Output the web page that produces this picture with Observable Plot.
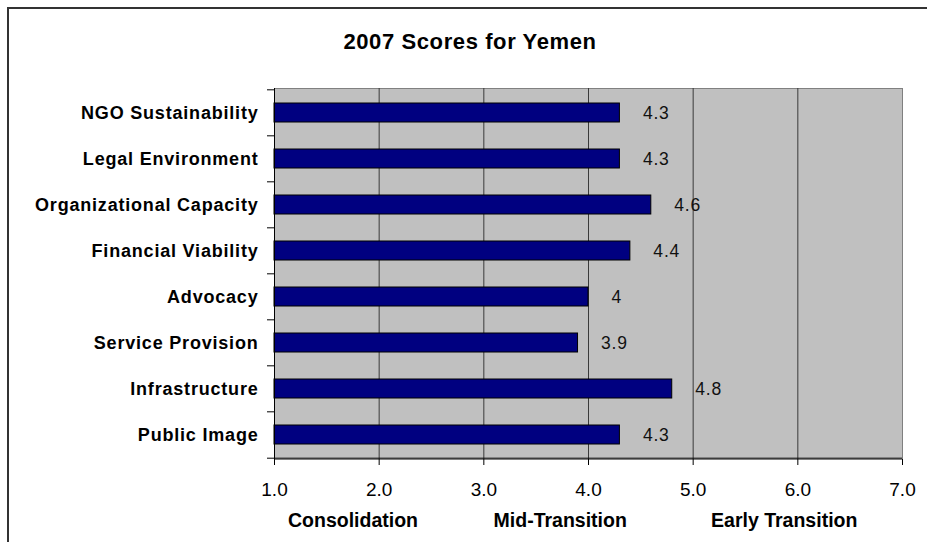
<!DOCTYPE html>
<html><head><meta charset="utf-8">
<script src="https://cdn.jsdelivr.net/npm/d3@7"></script>
<script src="https://cdn.jsdelivr.net/npm/@observablehq/plot@0.6"></script>
<style>
html,body{margin:0;padding:0;background:#fff;}
body{width:927px;height:542px;overflow:hidden;position:relative;font-family:"Liberation Sans",Arial,sans-serif;}
#border{position:absolute;left:7px;top:7px;width:1000px;height:1000px;border:2px solid #333;box-sizing:border-box}
#title{position:absolute;left:0;top:31px;width:940px;text-align:center;font-weight:bold;font-size:22px;line-height:22px;letter-spacing:0.6px;color:#000}
#chart{position:absolute;left:0;top:60px}
</style></head><body>
<div id="border"></div>
<div id="title">2007 Scores for Yemen</div>
<div id="chart"></div>
<script>
const categories = ["NGO Sustainability","Legal Environment","Organizational Capacity","Financial Viability","Advocacy","Service Provision","Infrastructure","Public Image"];
const scores = [4.3, 4.3, 4.6, 4.4, 4.0, 3.9, 4.8, 4.3];
const valueLabels = ["4.3","4.3","4.6","4.4","4","3.9","4.8","4.3"];
const xDomain = [1, 7];
const xTicks = [1, 2, 3, 4, 5, 6, 7];
const gridValues = [2, 3, 4, 5, 6];
const stages = ["Consolidation", "Mid-Transition", "Early Transition"];
const stagePositions = [1.75, 3.73, 5.87];

const W = 927, H = 482;
const mL = 274, mR = 25, mT = 28, mB = 83;
const step = (H - mT - mB) / categories.length;
const ppu = (W - mL - mR) / (xDomain[1] - xDomain[0]);
const tickExt = xDomain[0] - 7 / ppu;

const data = categories.map((c, i) => ({category: c, score: scores[i], label: valueLabels[i]}));
const stageData = stages.map((s, i) => ({stage: s, pos: stagePositions[i]}));

const chart = Plot.plot({
  width: W, height: H,
  marginLeft: mL, marginRight: mR, marginTop: mT, marginBottom: mB,
  style: {fontFamily: '"Liberation Sans", Arial, sans-serif', background: "transparent", color: "#000"},
  x: {domain: xDomain, label: null},
  y: {domain: categories, paddingInner: 0.59, paddingOuter: 0.295, align: 0.5, label: null},
  marks: [
    Plot.frame({fill: "#C0C0C0", stroke: "#808080"}),
    Plot.ruleX(gridValues, {stroke: "#3a3a3a", strokeWidth: 1}),
    Plot.barX(data, {y: "category", x1: xDomain[0], x2: "score", fill: "#000080", stroke: "#000", strokeWidth: 1}),
    Plot.ruleX([xDomain[0]], {stroke: "#000"}),
    Plot.ruleY(categories, {y: d => d, dy: -step / 2, x1: tickExt, x2: xDomain[0], stroke: "#000"}),
    Plot.ruleY([categories[categories.length - 1]], {y: d => d, dy: step / 2, x1: tickExt, x2: xDomain[1], stroke: "#000"}),
    Plot.text(data, {y: "category", x: "score", text: "label", dx: 23, textAnchor: "start", fontSize: 17.5, fill: "#111"}),
    Plot.axisX(xTicks, {tickSize: 6, tickPadding: 17, tickFormat: d => d.toFixed(1), fontSize: 19, label: null}),
    Plot.axisY({tickSize: 0, tickPadding: 16, fontSize: 18, fontWeight: "bold", label: null}),
    Plot.text(stageData, {x: "pos", text: "stage", frameAnchor: "bottom", dy: 61, lineAnchor: "middle", fontSize: 19.5, fontWeight: "bold"})
  ]
});
const svg = d3.select(chart);
svg.selectAll('[aria-label="y-axis tick label"] text').style("letter-spacing", "0.8px");
svg.selectAll('[aria-label="text"] text').filter(function(){ return /^[0-9.]+$/.test(this.textContent); }).style("letter-spacing", "0.8px");
document.getElementById("chart").appendChild(chart);
</script>
</body></html>
